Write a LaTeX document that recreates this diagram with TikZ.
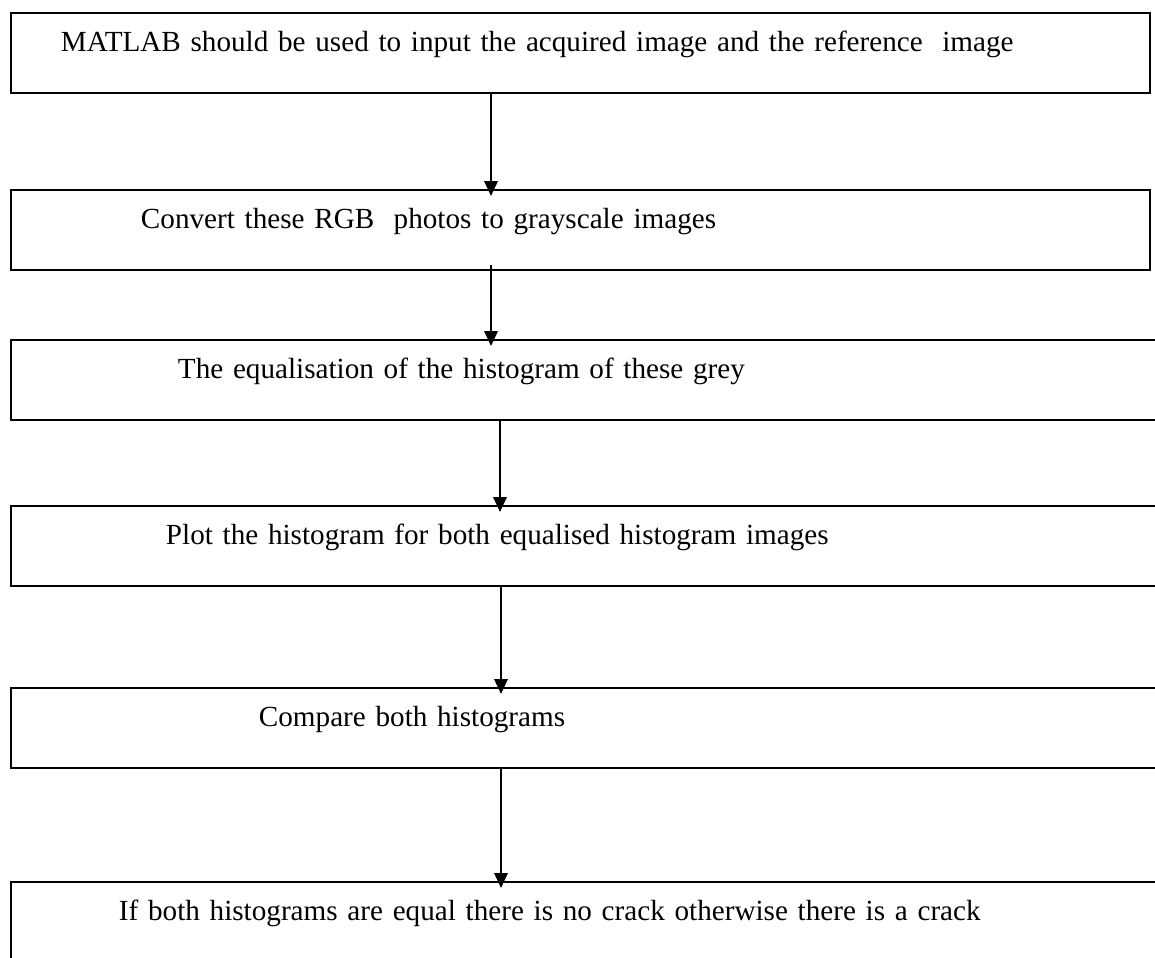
\documentclass[tikz,border=0pt]{standalone}
\usepackage{fontspec}
\setmainfont{Liberation Serif}
\usetikzlibrary{arrows.meta}

\begin{document}
\begin{tikzpicture}[x=0.02cm,y=-0.02cm,
	flowbox/.style={draw, line width=1.15pt, anchor=north west, minimum height=1.6cm,
		inner xsep=0pt, inner ysep=0pt, text width=#1, text height=0pt, text depth=0.06cm,
		align=left, font=\fontsize{16.6}{20}\selectfont},
	flowbox/.default=24cm,
	flowarrow/.style={-{Triangle[width=0.27cm,length=0.3cm]}, line width=1.15pt, shorten >=-0.14cm}]
	\useasboundingbox (0,0) rectangle (1155,957);
	\clip (0,0) rectangle (1155,957);
	% columns of the arrows
	\coordinate (colA) at (491,0);
	\coordinate (colB) at (500,0);
	\coordinate (colC) at (501,0);
	% BOXES
	\node[flowbox=22.78cm] (matlab) at (10,12) {\hspace*{1.0cm}MATLAB should be used to input the acquired image and the reference\ \ image};
	\node[flowbox=22.78cm] (grayscale) at (10,189) {\hspace*{2.6cm}Convert these RGB\ \ photos to grayscale images};
	\node[flowbox] (equalise) at (10,339) {\hspace*{3.34cm}The equalisation of the histogram of these grey};
	\node[flowbox] (plothist) at (10,505) {\hspace*{3.1cm}Plot the histogram for both equalised histogram images};
	\node[flowbox] (compare) at (10,687) {\hspace*{4.96cm}Compare both histograms};
	\node[flowbox] (verdict) at (10,881) {\hspace*{2.16cm}If both histograms are equal there is no crack otherwise there is a crack};
	% ARROWS
	\draw[flowarrow] (matlab.south -| colA) -- (grayscale.north -| colA);
	\draw[flowarrow] ([yshift=0.12cm]grayscale.south -| colA) -- (equalise.north -| colA);
	\draw[flowarrow] (equalise.south -| colB) -- (plothist.north -| colB);
	\draw[flowarrow] (plothist.south -| colC) -- (compare.north -| colC);
	\draw[flowarrow] (compare.south -| colC) -- (verdict.north -| colC);
\end{tikzpicture}
\end{document}
